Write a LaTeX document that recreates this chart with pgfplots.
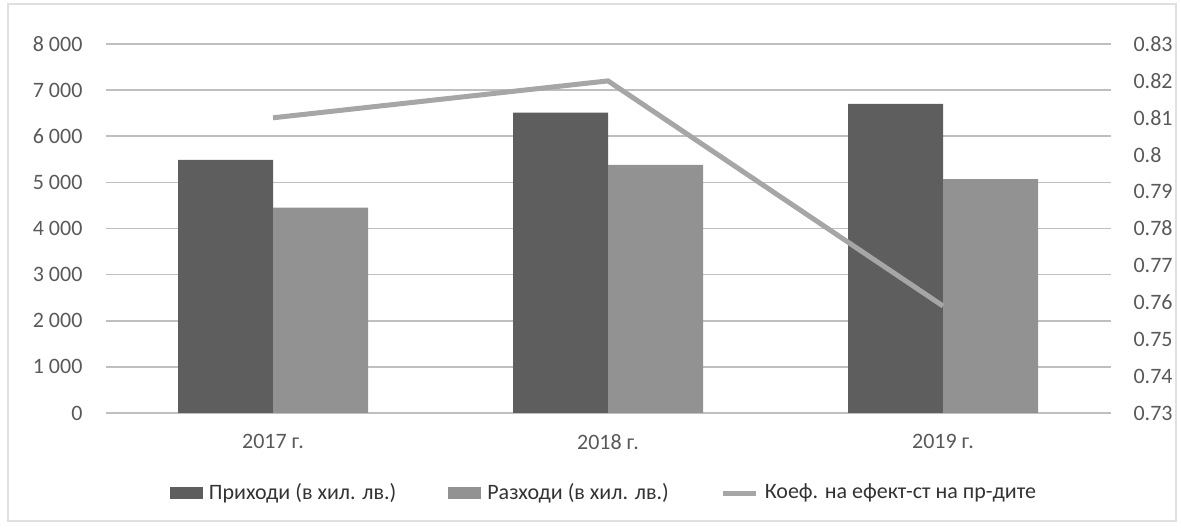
\documentclass[border=0pt]{standalone}
\usepackage{fontspec}
\setmainfont{Carlito}
\usepackage{pgfplots}
\pgfplotsset{compat=1.18}
\definecolor{incol}{HTML}{5E5E5E}
\definecolor{excol}{HTML}{929292}
\definecolor{lncol}{HTML}{A6A6A6}
\definecolor{grid}{HTML}{D4D4D4}
\definecolor{txt}{HTML}{595959}
\begin{document}
\begin{tikzpicture}
\path[use as bounding box] (0,0) rectangle (590.5pt,264.5pt);
\draw[color=black!12, line width=0.6pt] (4pt,4pt) rectangle (588pt,262.5pt);
\begin{axis}[
  at={(52.75pt,58pt)}, anchor=south west,
  scale only axis, width=502.5pt, height=184.5pt,
  xmin=-0.5, xmax=2.5, ymin=0, ymax=8000,
  xtick={0,1,2}, xticklabels={2017 г.,2018 г.,2019 г.},
  ytick={0,1000,...,8000},
  yticklabels={0,1 000,2 000,3 000,4 000,5 000,6 000,7 000,8 000},
  axis line style={draw=none},
  major tick length=0pt,
  xmajorgrids=false,
  ymajorgrids, grid style={grid, line width=0.8pt},
  ybar=0pt, bar width=47.5pt,
  tick label style={font=\fontsize{11}{13}\selectfont, text=txt},
  yticklabel style={xshift=-8pt},
  xticklabel style={yshift=-7pt},
]
\addplot[fill=incol, draw=none] coordinates {(0,5490) (1,6510) (2,6700)};
\addplot[fill=excol, draw=none] coordinates {(0,4450) (1,5380) (2,5070)};
\end{axis}
\begin{axis}[
  at={(52.75pt,58pt)}, anchor=south west,
  scale only axis, width=502.5pt, height=184.5pt,
  xmin=-0.5, xmax=2.5, ymin=0.73, ymax=0.83,
  xtick=\empty, xmajorgrids=false, ymajorgrids=false,
  axis x line=none,
  axis y line*=right,
  axis line style={draw=none},
  major tick length=0pt,
  ytick={0.73,0.74,0.75,0.76,0.77,0.78,0.79,0.80,0.81,0.82,0.83},
  yticklabels={0.73,0.74,0.75,0.76,0.77,0.78,0.79,0.8,0.81,0.82,0.83},
  tick label style={font=\fontsize{11}{13}\selectfont, text=txt},
  yticklabel style={xshift=8pt},
  legend columns=3,
  legend style={at={(0.497,-0.217)}, anchor=center, draw=none, fill=none,
    font=\fontsize{11}{13}\selectfont, text=black!80,
    /tikz/every odd column/.append style={column sep=1pt},
    /tikz/every even column/.append style={column sep=24pt}},
]
\addlegendimage{fill=incol, draw=none, legend image code/.code={\fill[incol] (0pt,-3pt) rectangle (16.5pt,3pt);}}
\addlegendentry{Приходи (в хил. лв.)}
\addlegendimage{fill=excol, draw=none, legend image code/.code={\fill[excol] (0pt,-3pt) rectangle (16.5pt,3pt);}}
\addlegendentry{Разходи (в хил. лв.)}
\addplot[color=lncol, line width=2.5pt, mark=none, legend image code/.code={\draw[lncol, line width=2.5pt] (0pt,0pt) -- (16.5pt,0pt);}] coordinates {(0,0.810) (1,0.820) (2,0.759)};
\addlegendentry{Коеф. на ефект-ст на пр-дите}
\end{axis}
\end{tikzpicture}
\end{document}
